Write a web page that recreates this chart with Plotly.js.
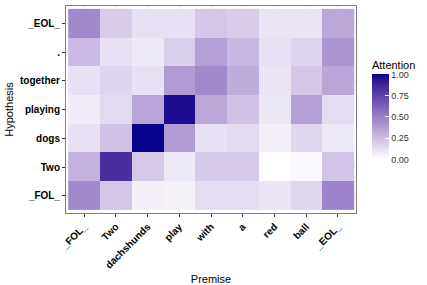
<!DOCTYPE html>
<html>
<head>
<meta charset="utf-8">
<script src="https://cdn.plot.ly/plotly-3.0.1.min.js"></script>
<style>html,body{margin:0;padding:0;background:#fff;}#chart{width:427px;height:285px;}</style>
</head>
<body>
<div id="chart"></div>
<script>
// Categories
const premise = ["_FOL_", "Two", "dachshunds", "play", "with", "a", "red", "ball", "_EOL_"];
const hypothesis = ["_FOL_", "Two", "dogs", "playing", "together", ".", "_EOL_"];

// Attention rows (one per hypothesis token, values across premise tokens)
const attnFOL      = [0.45, 0.21, 0.06, 0.05, 0.13, 0.13, 0.10, 0.15, 0.47];
const attnTwo      = [0.29, 0.83, 0.20, 0.08, 0.20, 0.20, 0.00, 0.02, 0.22];
const attnDogs     = [0.11, 0.23, 0.99, 0.38, 0.11, 0.14, 0.06, 0.15, 0.08];
const attnPlaying  = [0.07, 0.14, 0.34, 0.96, 0.33, 0.23, 0.09, 0.36, 0.13];
const attnTogether = [0.11, 0.16, 0.11, 0.38, 0.45, 0.31, 0.10, 0.21, 0.34];
const attnDot      = [0.26, 0.11, 0.08, 0.18, 0.36, 0.27, 0.11, 0.16, 0.40];
const attnEOL      = [0.45, 0.19, 0.11, 0.11, 0.21, 0.19, 0.10, 0.10, 0.33];

const colorbarTicks = [0, 0.25, 0.5, 0.75, 1];
const colorbarLabels = ["0.00", "0.25", "0.50", "0.75", "1.00"];

const z = [attnFOL, attnTwo, attnDogs, attnPlaying, attnTogether, attnDot, attnEOL];

// Lab interpolation white -> darkblue (like ggplot2 scale_fill_gradient)
function srgbToLin(c){c/=255;return c<=0.04045?c/12.92:Math.pow((c+0.055)/1.055,2.4);}
function linToSrgb(c){const v=c<=0.0031308?12.92*c:1.055*Math.pow(c,1/2.4)-0.055;return Math.max(0,Math.min(255,Math.round(v*255)));}
const Xn=0.95047,Yn=1.0,Zn=1.08883;
function f(t){return t>Math.pow(6/29,3)?Math.cbrt(t):t/(3*Math.pow(6/29,2))+4/29;}
function finv(t){return t>6/29?t*t*t:3*Math.pow(6/29,2)*(t-4/29);}
function rgb2lab(r,g,b){
  const R=srgbToLin(r),G=srgbToLin(g),B=srgbToLin(b);
  const X=0.4124*R+0.3576*G+0.1805*B,Y=0.2126*R+0.7152*G+0.0722*B,Z=0.0193*R+0.1192*G+0.9505*B;
  const fx=f(X/Xn),fy=f(Y/Yn),fz=f(Z/Zn);
  return [116*fy-16,500*(fx-fy),200*(fy-fz)];
}
function lab2rgb(L,a,b){
  const fy=(L+16)/116,fx=fy+a/500,fz=fy-b/200;
  const X=Xn*finv(fx),Y=Yn*finv(fy),Z=Zn*finv(fz);
  const R=3.2406*X-1.5372*Y-0.4986*Z,G=-0.9689*X+1.8758*Y+0.0415*Z,B=0.0557*X-0.2040*Y+1.0570*Z;
  return "rgb("+linToSrgb(R)+","+linToSrgb(G)+","+linToSrgb(B)+")";
}
const lo=rgb2lab(255,255,255),hi=rgb2lab(0,0,139);
const colorscale=[];
for(let i=0;i<=20;i++){const t=i/20;colorscale.push([t,lab2rgb(lo[0]+(hi[0]-lo[0])*t,lo[1]+(hi[1]-lo[1])*t,lo[2]+(hi[2]-lo[2])*t)]);}

const font = "Liberation Sans, Arial, Helvetica, sans-serif";

const trace = {
  type: "heatmap",
  x: premise,
  y: hypothesis,
  z: z,
  zmin: 0, zmax: 1,
  colorscale: colorscale,
  colorbar: {
    title: {text: "Attention", side: "top", font: {family: font, size: 11, color: "#000"}},
    thickness: 17,
    len: 102, lenmode: "pixels",
    x: 1.055, xanchor: "left", xpad: 0,
    y: 0.505, yanchor: "middle", ypad: 0,
    outlinewidth: 0,
    tickvals: colorbarTicks,
    ticktext: colorbarLabels,
    ticks: "inside", ticklen: 4, tickcolor: "#fff", tickwidth: 1,
    tickfont: {family: font, size: 9, color: "#333"}
  }
};

const layout = {
  width: 427, height: 285,
  margin: {l: 66, r: 71, t: 6, b: 72},
  paper_bgcolor: "#fff",
  plot_bgcolor: "#fff",
  font: {family: font},
  xaxis: {
    type: "category",
    categoryorder: "array", categoryarray: premise,
    range: [-0.57, 8.57],
    tickangle: -45,
    tickfont: {family: font, size: 10, color: "#000", weight: "bold"},
    ticks: "outside", ticklen: 3, tickcolor: "#333",
    showgrid: true, gridcolor: "#ebebeb",
    showline: true, mirror: true, linecolor: "#7f7f7f", linewidth: 1,
    zeroline: false,
    title: {text: "Premise", font: {family: font, size: 11, color: "#000"}, standoff: 6}
  },
  yaxis: {
    type: "category",
    categoryorder: "array", categoryarray: hypothesis,
    range: [-0.6, 6.6],
    tickfont: {family: font, size: 10, color: "#000", weight: "bold"},
    ticks: "outside", ticklen: 3, tickcolor: "#333",
    showgrid: true, gridcolor: "#ebebeb",
    showline: true, mirror: true, linecolor: "#7f7f7f", linewidth: 1,
    zeroline: false,
    title: {text: "Hypothesis", font: {family: font, size: 11, color: "#000"}, standoff: 4}
  }
};

Plotly.newPlot("chart", [trace], layout, {staticPlot: true, displayModeBar: false});
</script>
</body>
</html>
